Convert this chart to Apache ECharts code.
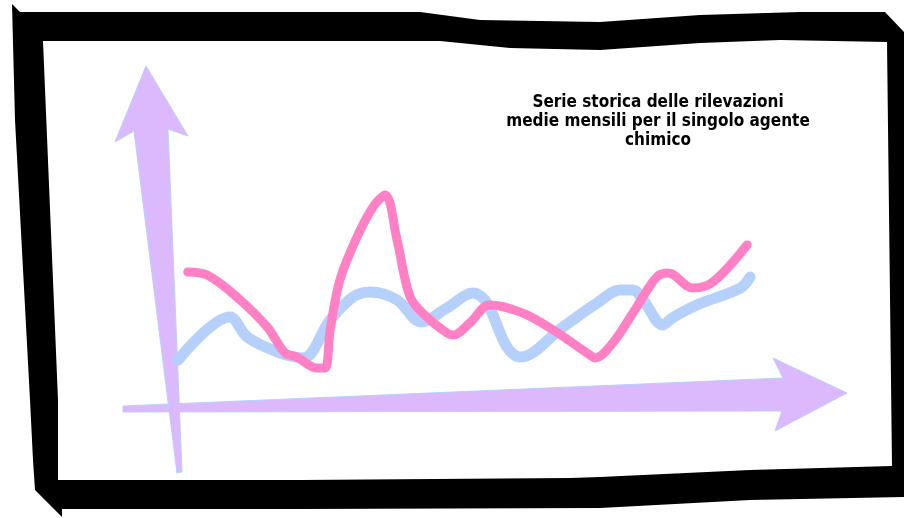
<!DOCTYPE html>
<html>
<head>
<meta charset="utf-8">
<script src="https://cdn.jsdelivr.net/npm/echarts@6/dist/echarts.min.js"></script>
<style>html,body{margin:0;padding:0;background:#fff;}#c{width:904px;height:518px;}</style>
</head>
<body>
<div id="c"></div>
<script>
// Data (time index 0-100, relative level 0-100)
const titleText = 'Serie storica delle rilevazioni\nmedie mensili per il singolo agente\nchimico';
const blueSeries = [
  [0,18.2],[9.1,37.7],[12.1,28.6],[17.8,21.4],[21.9,19.1],[26.6,36.4],[30.6,46.8],[33.6,49.1],
  [38.3,45.5],[42.5,35.5],[47.0,41.8],[51.6,48.6],[54.0,44.1],[57.5,24.1],[59.8,19.5],[67.3,33.2],
  [73.3,44.1],[77.3,50],[79.5,50],[81.3,45.5],[84.8,34.1],[86.4,37.3],[90.7,43.2],[98.3,50.9],[100,55.9]
];
const pinkSeries = [
  [1.7,58.2],[5.1,56.8],[10.3,46.8],[15.6,33.2],[18.7,21.4],[20.8,19.5],[24.3,14.5],[25.7,14.5],
  [26.6,31.8],[28.3,54.5],[31.3,74.1],[34.1,87.7],[36.2,93.2],[38.3,72.7],[40.6,46.8],[43.5,37.7],
  [47.0,30.5],[48.1,29.5],[51.0,35],[54.5,43.2],[60.3,39.5],[65.6,31.8],[72.0,20.5],[72.9,19.1],
  [76.0,25.9],[80.2,42.3],[83.7,55.9],[85.7,57.7],[90.0,50.9],[93.5,53.6],[99.5,70.5]
];

const chart = echarts.init(document.getElementById('c'), null, {renderer:'canvas'});
const arrowStyle = {fill:'#dcb8fc', stroke:'#b8d0ff', lineWidth:1};
chart.setOption({
  backgroundColor:'#ffffff',
  animation:false,
  title:{
    text:titleText,
    left:653, top:88,
    textAlign:'center',
    textStyle:{fontFamily:"'DejaVu Sans Condensed', 'Liberation Sans Narrow', sans-serif", fontWeight:'bold', fontSize:17, lineHeight:19, color:'#000'}
  },
  graphic:[
    {type:'polygon', z:-10, shape:{points:[[12,4],[20,12],[420,12],[480,20],[600,22],[700,15],[800,12],[885,12],[904,32],[904,497],[750,500],[600,508],[300,509],[62,509],[62,517],[35,490],[33,460],[30,400],[15,120]]}, style:{fill:'#000'}},
    {type:'polygon', z:-9, shape:{points:[[43,41],[440,41],[510,48],[600,50],[700,43],[780,40],[887,42],[892,466],[750,470],[600,477],[570,478],[300,480],[58,480],[58,400]]}, style:{fill:'#fff'}},
    {type:'polygon', z:-8, shape:{points:[[123,406],[783,378],[773,358],[847,393],[775,431],[782,411],[123,412]]}, style:arrowStyle},
    {type:'polygon', z:-7, shape:{points:[[177,473],[134,131],[115,142],[146,66],[188,136],[168,129],[182,472]]}, style:arrowStyle}
  ],
  grid:{left:178, right:154, top:180, bottom:118},
  xAxis:{type:'value', min:0, max:100, show:false},
  yAxis:{type:'value', min:0, max:100, show:false},
  series:[
    {type:'line', data:blueSeries, smooth:0.35, symbol:'none',
     lineStyle:{color:'#b5d0fa', width:11, cap:'round', join:'round'}},
    {type:'line', data:pinkSeries, smooth:0.35, symbol:'none',
     lineStyle:{color:'#ff80c4', width:9, cap:'round', join:'round'}}
  ]
});
</script>
</body>
</html>
